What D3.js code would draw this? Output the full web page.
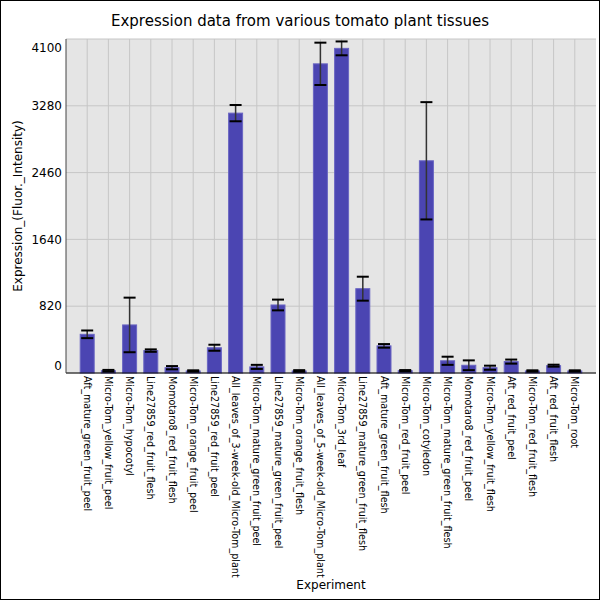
<!DOCTYPE html>
<html lang="en">
<head>
<meta charset="UTF-8">
<title>Expression data from various tomato plant tissues</title>
<script src="https://d3js.org/d3.v7.min.js"></script>
<style>
  body { margin: 0; background: #fff; }
  svg { font-family: "DejaVu Sans", sans-serif; }
</style>
</head>
<body>
<svg id="chart" width="600" height="600"></svg>
<script>
// tissues, in plot order
const tissues = [
  "Aft_mature_green_fruit_peel",
  "Micro-Tom_yellow_fruit_peel",
  "Micro-Tom_hypocotyl",
  "Line27859_red_fruit_flesh",
  "Momotaro8_red_fruit_flesh",
  "Micro-Tom_orange_fruit_peel",
  "Line27859_red_fruit_peel",
  "All_leaves_of_3-week-old_Micro-Tom_plant",
  "Micro-Tom_mature_green_fruit_peel",
  "Line27859_mature_green_fruit_peel",
  "Micro-Tom_orange_fruit_flesh",
  "All_leaves_of_5-week-old_Micro-Tom_plant",
  "Micro-Tom_3rd_leaf",
  "Line27859_mature_green_fruit_flesh",
  "Aft_mature_green_fruit_flesh",
  "Micro-Tom_red_fruit_peel",
  "Micro-Tom_cotyledon",
  "Micro-Tom_mature_green_fruit_flesh",
  "Momotaro8_red_fruit_peel",
  "Micro-Tom_yellow_fruit_flesh",
  "Aft_red_fruit_peel",
  "Micro-Tom_red_fruit_flesh",
  "Aft_red_fruit_flesh",
  "Micro-Tom_root"
];

// mean expression
const expression = [
  475, 28, 590, 275, 65, 25, 310, 3190, 75, 835, 25, 3795,
  3985, 1035, 333, 28, 2605, 150, 95, 65, 140, 25, 90, 25
];

// half-length of each error bar
const errors = [
  47, 10, 335, 15, 20, 8, 37, 100, 25, 66, 10, 260,
  85, 147, 22, 8, 720, 50, 60, 25, 25, 8, 12, 8
];

const yTicks = [0, 820, 1640, 2460, 3280, 4100];

const svg = d3.select("#chart");
const W = 600, H = 600;
const m = { left: 66, right: 4, top: 39, bottom: 227 };

// outer frame
svg.append("rect")
  .attr("x", 0.5).attr("y", 0.5)
  .attr("width", W - 1).attr("height", H - 1)
  .attr("fill", "#fff").attr("stroke", "#000");

const x = d3.scaleLinear()
  .domain([0, tissues.length + 1])
  .range([m.left, W - m.right]);

const y = d3.scaleLinear()
  .domain([0, 4100])
  .range([H - m.bottom, m.top]);

const barW = 14, capW = 12;

// plot background
svg.append("rect")
  .attr("x", m.left).attr("y", m.top)
  .attr("width", W - m.right - m.left)
  .attr("height", H - m.bottom - m.top)
  .attr("fill", "#e5e5e5");

// grid
const g = svg.append("g");
g.selectAll(".hgrid").data(yTicks).join("line")
  .attr("x1", m.left).attr("x2", W - m.right)
  .attr("y1", d => y(d)).attr("y2", d => y(d))
  .attr("stroke", "#c6c6c6").attr("stroke-width", 1);

g.selectAll(".vgrid").data(tissues).join("line")
  .attr("x1", (d, i) => x(i + 1)).attr("x2", (d, i) => x(i + 1))
  .attr("y1", m.top).attr("y2", H - m.bottom)
  .attr("stroke", "#c6c6c6").attr("stroke-width", 1);

// bars
svg.append("g").selectAll("rect").data(expression).join("rect")
  .attr("x", (d, i) => x(i + 1) - barW / 2)
  .attr("y", d => y(d))
  .attr("width", barW)
  .attr("height", d => y(0) - y(d))
  .attr("fill", "#4b45b2")
  .attr("stroke", "#6a65c2")
  .attr("stroke-width", 1);

// error bars
const eb = svg.append("g").selectAll("g").data(expression).join("g");
eb.append("line")
  .attr("x1", (d, i) => x(i + 1)).attr("x2", (d, i) => x(i + 1))
  .attr("y1", (d, i) => y(d + errors[i]))
  .attr("y2", (d, i) => y(Math.max(0, d - errors[i])))
  .attr("stroke", "#333").attr("stroke-width", 1.5);
eb.append("line")
  .attr("x1", (d, i) => x(i + 1) - capW / 2).attr("x2", (d, i) => x(i + 1) + capW / 2)
  .attr("y1", (d, i) => y(d + errors[i])).attr("y2", (d, i) => y(d + errors[i]))
  .attr("stroke", "#000").attr("stroke-width", 2);
eb.append("line")
  .attr("x1", (d, i) => x(i + 1) - capW / 2).attr("x2", (d, i) => x(i + 1) + capW / 2)
  .attr("y1", (d, i) => y(Math.max(0, d - errors[i])))
  .attr("y2", (d, i) => y(Math.max(0, d - errors[i])))
  .attr("stroke", "#000").attr("stroke-width", 2);

// axes lines
svg.append("line")
  .attr("x1", m.left).attr("x2", W - m.right)
  .attr("y1", H - m.bottom).attr("y2", H - m.bottom)
  .attr("stroke", "#000");
svg.append("line")
  .attr("x1", m.left).attr("x2", m.left)
  .attr("y1", m.top).attr("y2", H - m.bottom)
  .attr("stroke", "#444");

// y tick labels, end labels kept inside the plot
svg.append("g").selectAll("text").data(yTicks).join("text")
  .attr("x", m.left - 4)
  .attr("y", d => y(d))
  .attr("dy", d => d === 0 ? "-0.25em" : d === 4100 ? "1.05em" : "0.35em")
  .attr("text-anchor", "end")
  .attr("font-size", 12)
  .text(d => d);

// x tick labels, rotated
svg.append("g").selectAll("text").data(tissues).join("text")
  .attr("transform", (d, i) => `translate(${x(i + 1)},${H - m.bottom + 3}) rotate(90)`)
  .attr("dy", "0.35em")
  .attr("text-anchor", "start")
  .attr("font-size", 9.6)
  .text(d => d);

// titles
svg.append("text")
  .attr("x", W / 2).attr("y", 26)
  .attr("text-anchor", "middle")
  .attr("font-size", 15)
  .text("Expression data from various tomato plant tissues");

svg.append("text")
  .attr("x", (m.left + W - m.right) / 2).attr("y", 589)
  .attr("text-anchor", "middle")
  .attr("font-size", 12)
  .text("Experiment");

svg.append("text")
  .attr("transform", `translate(22,${(m.top + H - m.bottom) / 2}) rotate(-90)`)
  .attr("text-anchor", "middle")
  .attr("font-size", 12)
  .text("Expression_(Fluor._Intensity)");
</script>
</body>
</html>
